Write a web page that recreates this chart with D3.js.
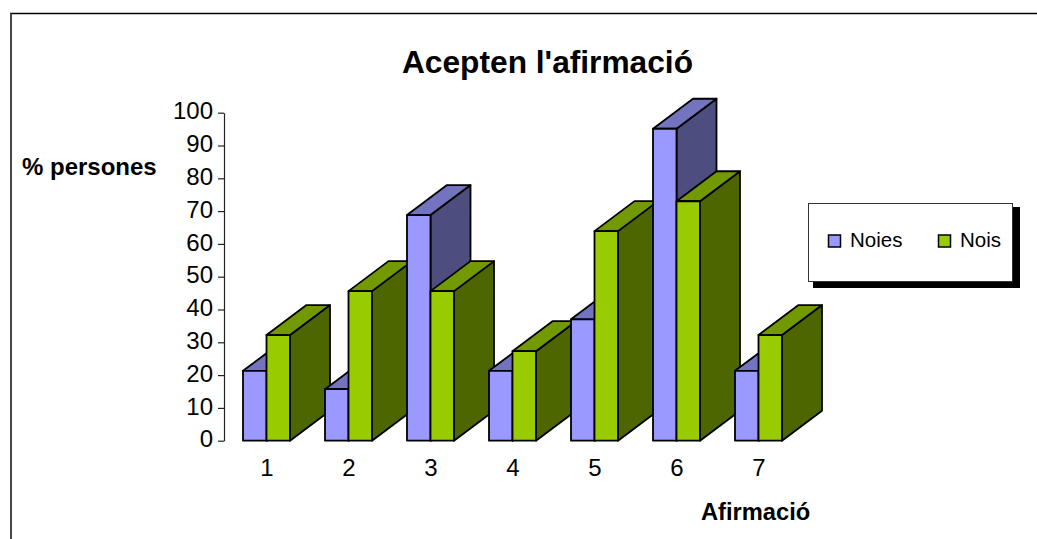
<!DOCTYPE html>
<html><head><meta charset="utf-8"><script src="https://d3js.org/d3.v7.min.js"></script>
<style>html,body{margin:0;padding:0;background:#fff}svg{display:block}text{font-family:"Liberation Sans",Arial,sans-serif;fill:#000}</style></head>
<body><svg id="c" width="1037" height="539"></svg>
<script>
const categories = ["1","2","3","4","5","6","7"];
const seriesNames = ["Noies","Nois"];
const noies = [21.3,15.7,68.8,21.3,37,95.1,21.3];
const nois = [32.2,45.6,45.6,27.3,63.9,73,32.2];
const yTicks = [0,10,20,30,40,50,60,70,80,90,100];
const frontColors = ["#9999FF","#99CC00"];
const topColors = ["#7373BF","#739900"];
const sideColors = ["#4D4D80","#4D6600"];

const svg = d3.select("#c");
svg.append("path").attr("d","M10,13.5H1037").attr("fill","none").attr("stroke","#000").attr("stroke-width",1.3);
svg.append("path").attr("d","M11,13V539").attr("fill","none").attr("stroke","#333").attr("stroke-width",1.8);

const y = d3.scaleLinear().domain([0,100]).range([440.7,112.7]);
const x = d3.scaleBand().domain(categories).range([226,800]);
const barW = 23.5, dx = 40, dy = 30;

const axis = d3.axisLeft(y).tickValues(yTicks).tickSize(6).tickSizeOuter(0).tickPadding(5);
const ga = svg.append("g").attr("transform","translate(224,0)").call(axis);
ga.selectAll("path,line").attr("stroke","#222").attr("stroke-width",1.2);
ga.selectAll("text").attr("font-size",24).attr("dy","0.26em").style("font-family",'"Liberation Sans"').attr("fill","#000");

const gx = svg.append("g");
gx.selectAll("text").data(categories).join("text")
  .attr("x",d=>x(d)+x.bandwidth()/2).attr("y",476).attr("text-anchor","middle").attr("font-size",24).text(d=>d);

const gb = svg.append("g").attr("stroke","#000").attr("stroke-width",1.8).attr("stroke-linejoin","round");
categories.forEach((c,i)=>{
  [noies[i],nois[i]].forEach((v,s)=>{
    const x0 = x(c)+x.bandwidth()/2 - 24 + s*barW, x1 = x0+barW, yt=y(v), yb=y(0);
    gb.append("path").attr("fill",sideColors[s]).attr("d",`M${x1},${yb}L${x1+dx},${yb-dy}L${x1+dx},${yt-dy}L${x1},${yt}Z`);
    gb.append("path").attr("fill",topColors[s]).attr("d",`M${x0},${yt}L${x0+dx},${yt-dy}L${x1+dx},${yt-dy}L${x1},${yt}Z`);
    gb.append("rect").attr("fill",frontColors[s]).attr("x",x0).attr("y",yt).attr("width",barW).attr("height",yb-yt);
  });
});

svg.append("text").attr("x",547.5).attr("y",73).attr("text-anchor","middle").attr("font-size",31.7).attr("font-weight","bold").text("Acepten l'afirmació");
svg.append("text").attr("x",22).attr("y",175).attr("font-size",24).attr("font-weight","bold").text("% persones");
svg.append("text").attr("x",701).attr("y",520).attr("font-size",23.7).attr("font-weight","bold").text("Afirmació");

const lg = svg.append("g");
lg.append("rect").attr("x",813).attr("y",207).attr("width",207).attr("height",81).attr("fill","#000");
lg.append("rect").attr("x",808.5).attr("y",203.5).attr("width",204).attr("height",78).attr("fill","#fff").attr("stroke","#333").attr("stroke-width",1);
const lx=[828.5,938.5], tx=[850,960];
seriesNames.forEach((n,i)=>{
  lg.append("rect").attr("x",lx[i]).attr("y",235).attr("width",12).attr("height",12).attr("fill",frontColors[i]).attr("stroke","#000").attr("stroke-width",1.5);
  lg.append("text").attr("x",tx[i]).attr("y",247).attr("font-size",20.5).text(n);
});
</script></body></html>
